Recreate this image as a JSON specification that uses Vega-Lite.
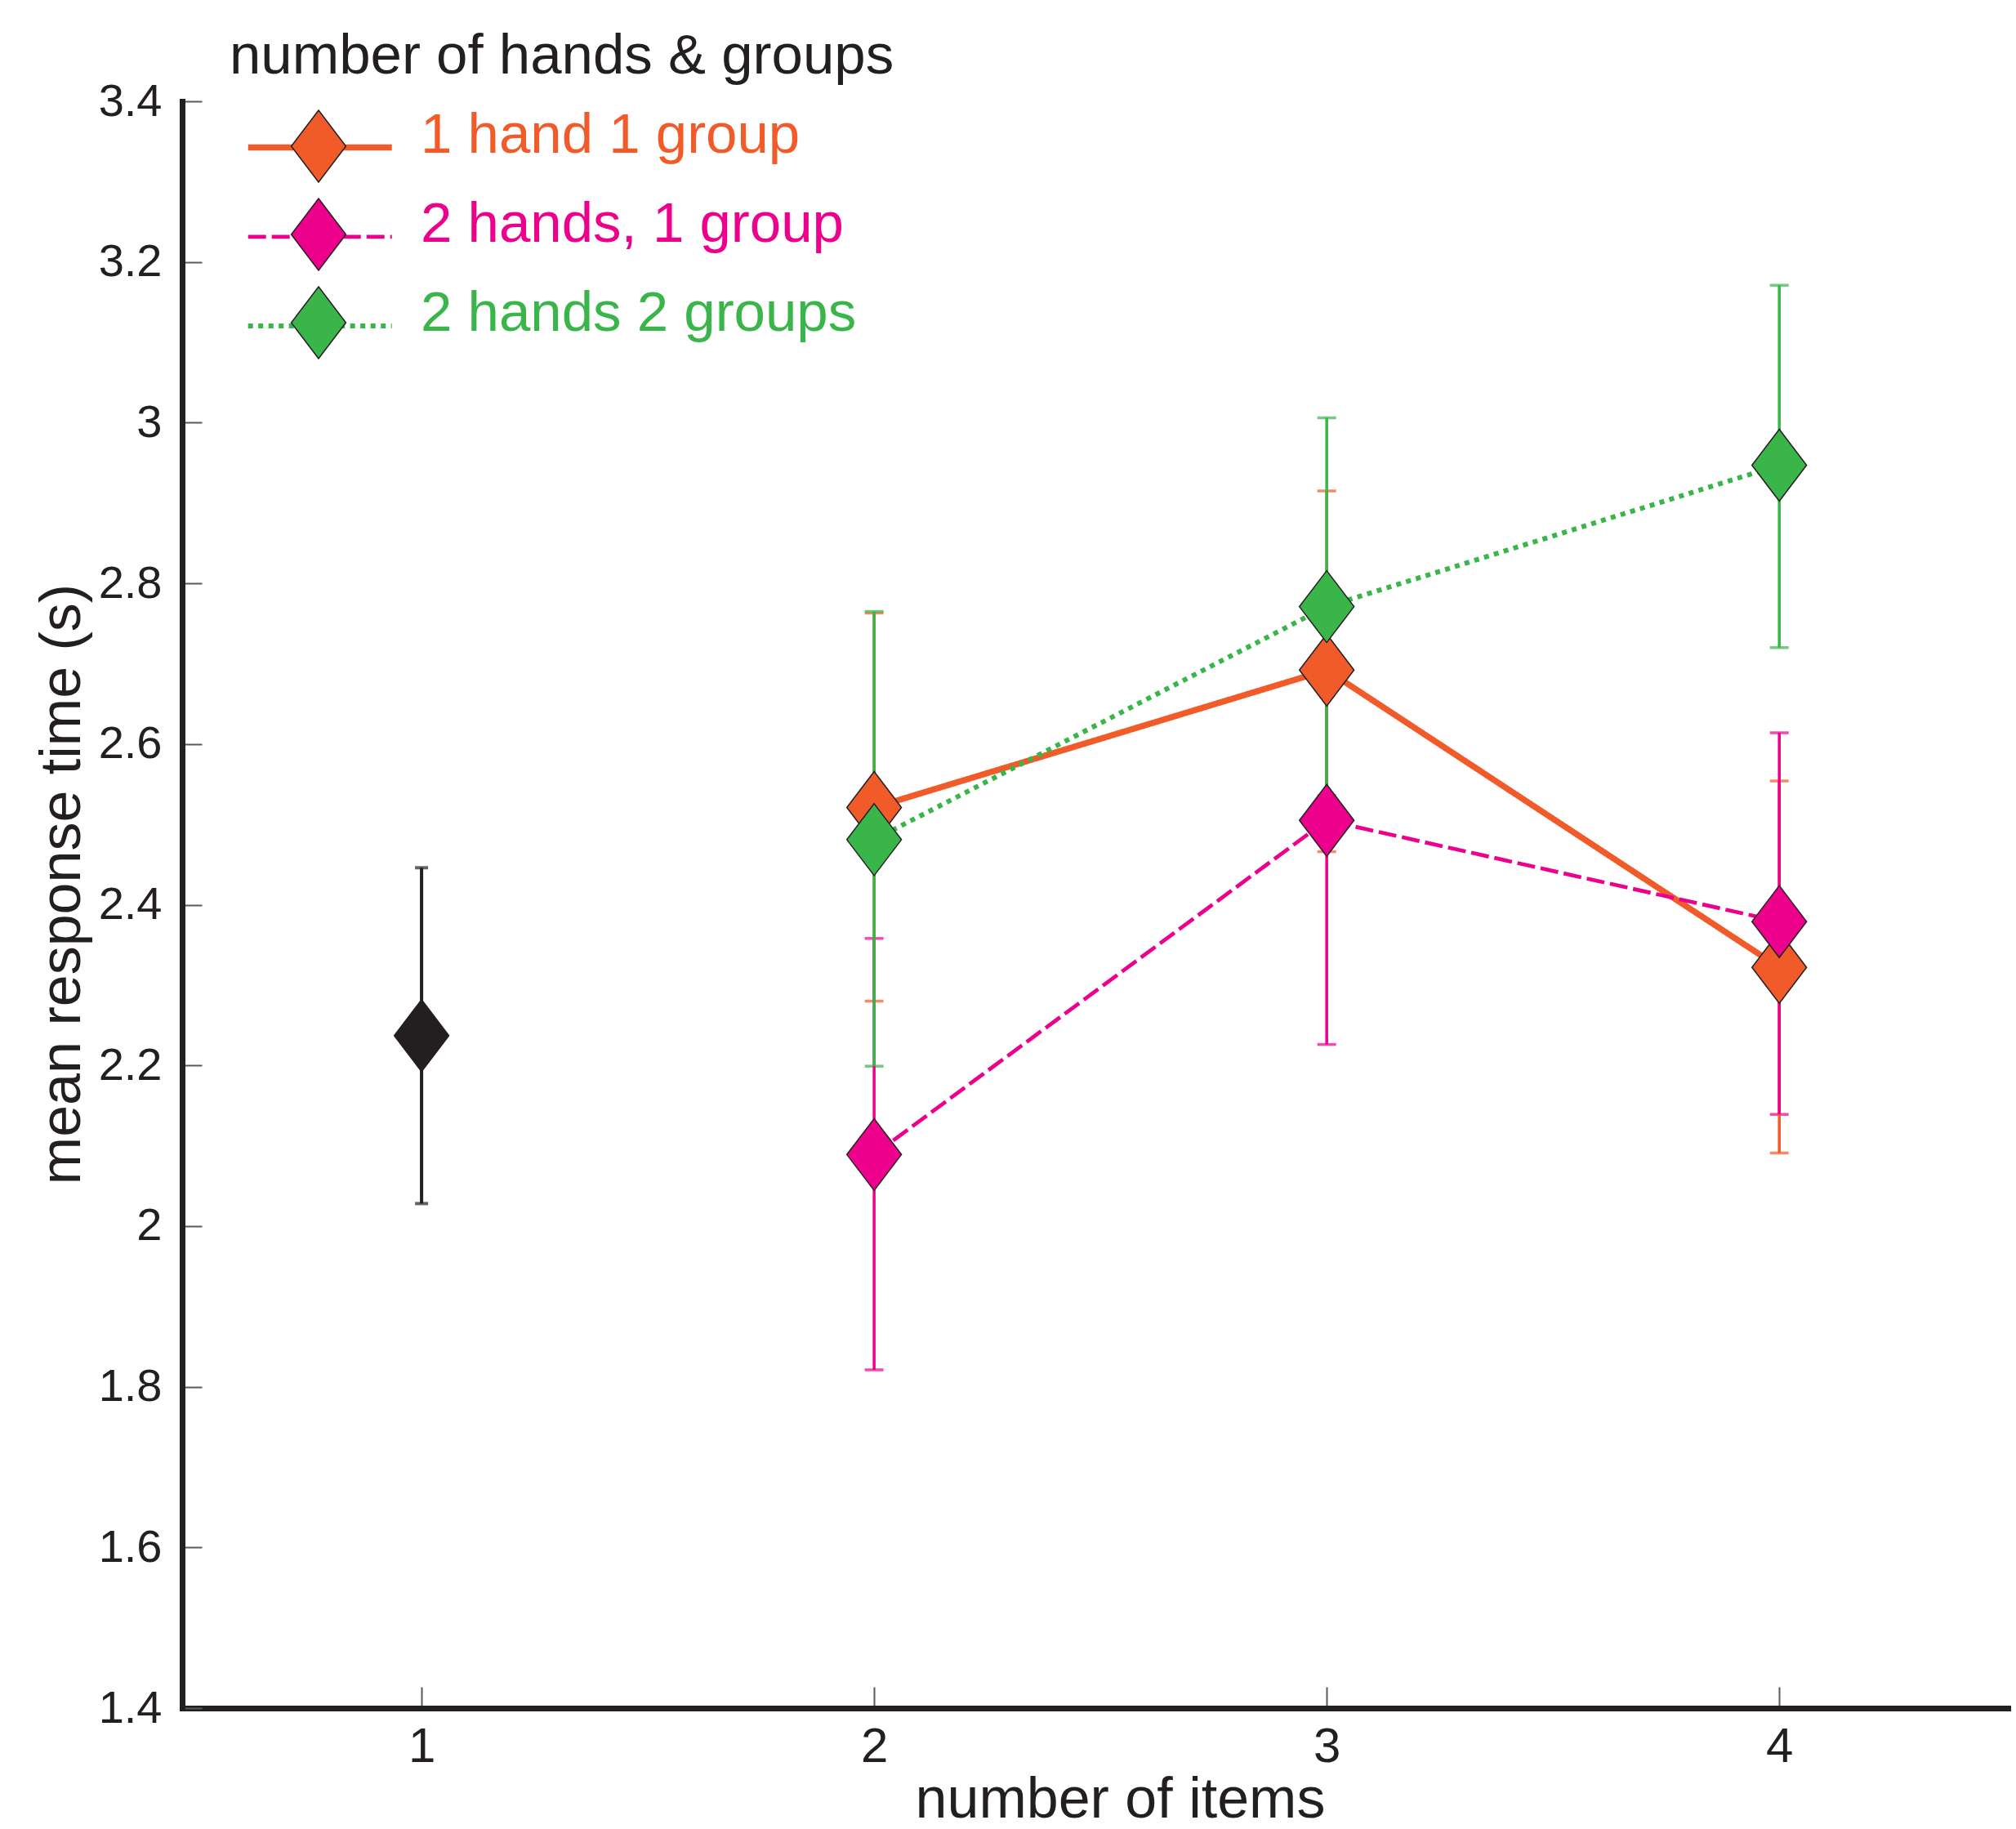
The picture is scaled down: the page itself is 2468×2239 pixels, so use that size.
{
  "$schema": "https://vega.github.io/schema/vega-lite/v6.json",
  "width": 2235,
  "height": 1967,
  "autosize": "none",
  "padding": {"left": 223, "top": 124, "right": 10, "bottom": 148},
  "background": "white",
  "config": {
    "view": {"stroke": null},
    "font": "Liberation Sans",
    "axis": {
      "grid": false,
      "labelFont": "Liberation Sans",
      "titleFont": "Liberation Sans",
      "titleFontWeight": "normal",
      "labelColor": "#231f20",
      "titleColor": "#231f20",
      "domainColor": "#231f20",
      "domainWidth": 7,
      "domainCap": "square",
      "tickColor": "#58595b",
      "tickWidth": 2
    },
    "legend": {"labelFont": "Liberation Sans", "titleFont": "Liberation Sans", "labelLimit": 0, "titleLimit": 0}
  },
  "data": {
    "values": [
      {"group": "1 item", "items": 1, "mean": 2.237, "lo": 2.028, "hi": 2.446},
      {"group": "1 hand 1 group", "items": 2, "mean": 2.521, "lo": 2.280, "hi": 2.763},
      {"group": "1 hand 1 group", "items": 3, "mean": 2.692, "lo": 2.466, "hi": 2.915},
      {"group": "1 hand 1 group", "items": 4, "mean": 2.322, "lo": 2.091, "hi": 2.554},
      {"group": "2 hands, 1 group", "items": 2, "mean": 2.089, "lo": 1.821, "hi": 2.358},
      {"group": "2 hands, 1 group", "items": 3, "mean": 2.505, "lo": 2.226, "hi": 2.784},
      {"group": "2 hands, 1 group", "items": 4, "mean": 2.379, "lo": 2.139, "hi": 2.614},
      {"group": "2 hands 2 groups", "items": 2, "mean": 2.481, "lo": 2.199, "hi": 2.765},
      {"group": "2 hands 2 groups", "items": 3, "mean": 2.771, "lo": 2.536, "hi": 3.006},
      {"group": "2 hands 2 groups", "items": 4, "mean": 2.947, "lo": 2.720, "hi": 3.171}
    ]
  },
  "encoding": {
    "x": {
      "field": "items",
      "type": "quantitative",
      "title": "number of items",
      "scale": {"domain": [0.471, 4.505], "nice": false, "zero": false},
      "axis": {
        "values": [1, 2, 3, 4],
        "format": "d",
        "labelFontSize": 60,
        "titleFontSize": 70,
        "tickSize": -26,
        "labelPadding": 44,
        "titleX": 1148,
        "titleY": 133,
        "titleBaseline": "alphabetic",
        "titleAlign": "center"
      }
    }
  },
  "layer": [
    {
      "transform": [{"filter": "datum.group === '1 item'"}],
      "mark": {"type": "errorbar", "ticks": true, "size": 16, "thickness": 4, "color": "#231f20"},
      "encoding": {
        "y": {
          "field": "lo",
          "type": "quantitative",
          "title": "mean response time (s)",
          "scale": {"domain": [1.4, 3.4], "nice": false, "zero": false},
          "axis": {
            "values": [1.4, 1.6, 1.8, 2, 2.2, 2.4, 2.6, 2.8, 3, 3.2, 3.4],
            "format": "~g",
            "labelFontSize": 56,
            "titleFontSize": 70,
            "tickSize": -24,
            "labelPadding": 49,
            "titleX": -126,
            "titleY": 958,
            "titleBaseline": "alphabetic",
            "titleAlign": "center",
            "titleAngle": -90
          }
        },
        "y2": {"field": "hi"}
      }
    },
    {
      "transform": [{"filter": "datum.group !== '1 item'"}],
      "mark": {"type": "errorbar", "ticks": true, "size": 23, "thickness": 3.5},
      "encoding": {
        "y": {"field": "lo", "type": "quantitative", "title": "mean response time (s)", "scale": {"domain": [1.4, 3.4], "nice": false, "zero": false}},
        "y2": {"field": "hi"},
        "color": {
          "field": "group",
          "type": "nominal",
          "scale": {"domain": ["1 hand 1 group", "2 hands, 1 group", "2 hands 2 groups"], "range": ["#f15a29", "#ec008c", "#39b54a"]},
          "legend": null
        }
      }
    },
    {
      "transform": [{"filter": "datum.group !== '1 item'"}],
      "mark": {"type": "line", "strokeCap": "butt"},
      "encoding": {
        "y": {"field": "mean", "type": "quantitative", "title": "mean response time (s)", "scale": {"domain": [1.4, 3.4], "nice": false, "zero": false}},
        "color": {
          "field": "group",
          "type": "nominal",
          "scale": {"domain": ["1 hand 1 group", "2 hands, 1 group", "2 hands 2 groups"], "range": ["#f15a29", "#ec008c", "#39b54a"]},
          "legend": {
            "orient": "none",
            "legendX": 58,
            "legendY": -89,
            "title": "number of hands & groups",
            "titleFontSize": 69,
            "titleFontWeight": "normal",
            "titleColor": "#231f20",
            "titlePadding": 42,
            "labelFontSize": 69,
            "symbolType": "M-1.95,0L2.05,0",
            "symbolSize": 7744,
            "symbolStrokeWidth": 1.5,
            "symbolOffset": 74,
            "labelOffset": 91,
            "rowPadding": 39.3,
            "values": ["1 hand 1 group", "2 hands, 1 group", "2 hands 2 groups"],
            "encode": {
              "labels": {"update": {"fill": {"signal": "datum.value === '1 hand 1 group' ? '#f15a29' : datum.value === '2 hands, 1 group' ? '#ec008c' : '#39b54a'"}, "dy": {"value": -15}}},
              "symbols": {"update": {"strokeWidth": {"signal": "datum.value === '1 hand 1 group' ? 7.5 : datum.value === '2 hands, 1 group' ? 4.7 : 6"}}}
            }
          }
        },
        "strokeDash": {
          "field": "group",
          "type": "nominal",
          "scale": {"domain": ["1 hand 1 group", "2 hands, 1 group", "2 hands 2 groups"], "range": [[1, 0], [22, 7], [6, 6.5]]},
          "legend": {
            "orient": "none",
            "legendX": 58,
            "legendY": -89,
            "title": "number of hands & groups",
            "titleFontSize": 69,
            "titleFontWeight": "normal",
            "titleColor": "#231f20",
            "titlePadding": 42,
            "labelFontSize": 69,
            "symbolType": "M-1.95,0L2.05,0",
            "symbolSize": 7744,
            "symbolStrokeWidth": 1.5,
            "symbolOffset": 74,
            "labelOffset": 91,
            "rowPadding": 39.3,
            "values": ["1 hand 1 group", "2 hands, 1 group", "2 hands 2 groups"]
          }
        },
        "strokeWidth": {
          "condition": [
            {"test": "datum.group === '1 hand 1 group'", "value": 7.5},
            {"test": "datum.group === '2 hands, 1 group'", "value": 4.7}
          ],
          "value": 6
        }
      }
    },
    {
      "mark": {"type": "point", "shape": "M0,-1L0.76,0L0,1L-0.76,0Z", "filled": true, "size": 7744, "stroke": "#231f20", "strokeWidth": 1.5, "opacity": 1},
      "encoding": {
        "y": {"field": "mean", "type": "quantitative", "title": "mean response time (s)", "scale": {"domain": [1.4, 3.4], "nice": false, "zero": false}},
        "color": {
          "field": "group",
          "type": "nominal",
          "scale": {"domain": ["1 hand 1 group", "2 hands, 1 group", "2 hands 2 groups", "1 item"], "range": ["#f15a29", "#ec008c", "#39b54a", "#231f20"]},
          "legend": {
            "orient": "none",
            "legendX": 58,
            "legendY": -89,
            "title": " ",
            "titleFontSize": 67,
            "titleFontWeight": "normal",
            "titlePadding": 32,
            "labelFontSize": 67,
            "labelExpr": "''",
            "symbolType": "M0,-1L0.76,0L0,1L-0.76,0Z",
            "symbolSize": 7744,
            "symbolStrokeWidth": 1.5,
            "symbolStrokeColor": "#231f20",
            "symbolOpacity": 1,
            "symbolOffset": 64,
            "labelOffset": 101,
            "rowPadding": 14,
            "values": ["1 hand 1 group", "2 hands, 1 group", "2 hands 2 groups"]
          }
        }
      }
    }
  ],
  "resolve": {
    "scale": {"color": "independent", "strokeDash": "independent"},
    "legend": {"color": "independent", "strokeDash": "independent"}
  }
}
